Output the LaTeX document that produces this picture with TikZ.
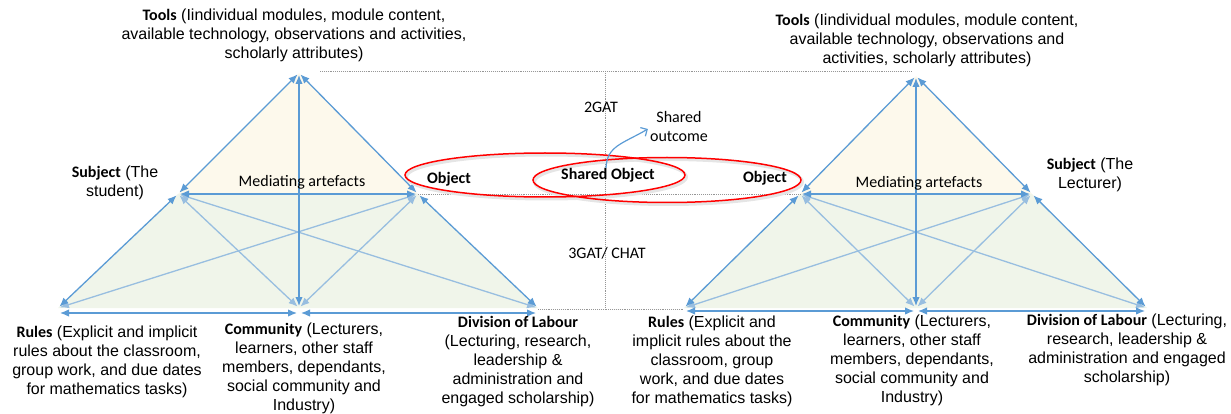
\documentclass[tikz,border=0pt]{standalone}
\usepackage{fontspec}
\setmainfont{Liberation Sans}
\newfontfamily\calib{Carlito}
\usetikzlibrary{arrows.meta}
\definecolor{arrowblue}{RGB}{91,155,213}
\definecolor{paleblue}{RGB}{152,190,224}
\definecolor{toolfill}{RGB}{253,249,236}
\definecolor{basefill}{RGB}{240,245,234}
\definecolor{guidegrey}{RGB}{150,150,150}
\newcommand{\hd}[1]{{\calib\bfseries #1}}

\begin{document}
\begin{tikzpicture}[x=1pt,y=-1pt,
	lbl/.style={align=center,font=\fontsize{16}{19}\selectfont,inner sep=0pt},
	clbl/.style={font=\calib\fontsize{16}{19}\selectfont,inner sep=0pt},
	link/.style={arrowblue,line width=1.3pt,{Latex[length=9pt,width=7.5pt]}-{Latex[length=9pt,width=7.5pt]},shorten <=2pt,shorten >=2pt},
	cross/.style={link,paleblue},
	guide/.style={guidegrey,densely dotted,line width=0.9pt},
	obj/.style={red,line width=1.5pt},
	objshade/.style={black!10,line width=3pt}]
	\useasboundingbox (0,0) rectangle (1231,414);

	% corners of the two activity systems
	\coordinate (lT) at (299,73);
	\coordinate (lS) at (178,194);
	\coordinate (lO) at (418,194);
	\coordinate (lR) at (58,308);
	\coordinate (lC) at (299,308);
	\coordinate (lD) at (538,308);
	\coordinate (rT) at (916,76);
	\coordinate (rO) at (800,194);
	\coordinate (rS) at (1032,194);
	\coordinate (rR) at (684,308);
	\coordinate (rC) at (916,308);
	\coordinate (rD) at (1147,308);

	% shaded areas
	\fill[toolfill] (lT) -- (lS) -- (lO) -- cycle;
	\fill[basefill] (lS) -- (lO) -- (lD) -- (lR) -- cycle;
	\fill[toolfill] (rT) -- (rO) -- (rS) -- cycle;
	\fill[basefill] (rO) -- (rS) -- (rD) -- (rR) -- cycle;

	% dotted frame between the systems
	\draw[guide] (320,71) -- (912,71);
	\draw[guide] (605,71) -- (605,307);
	\draw[guide] (lO) -- (rO);
	\draw[guide] ([yshift=-1pt]lD) -- ([yshift=-1pt]rR);

	% left system
	\draw[cross] (lS) -- (lC);
	\draw[cross] (lS) -- (lD);
	\draw[cross] (lO) -- (lR);
	\draw[cross] (lO) -- (lC);
	\draw[link] (lT) -- (lS);
	\draw[link] (lT) -- (lO);
	\draw[link] (lT) -- (lC);
	\draw[link] (lS) -- (lO);
	\draw[link] (lS) -- (lR);
	\draw[link] (lO) -- (lD);
	\draw[link] ([yshift=-5pt]lR) -- ([yshift=-5pt]lC);
	\draw[link] ([yshift=-5pt]lC) -- ([yshift=-5pt]lD);

	% right system
	\draw[cross] (rO) -- (rC);
	\draw[cross] (rO) -- (rD);
	\draw[cross] (rS) -- (rR);
	\draw[cross] (rS) -- (rC);
	\draw[link] (rT) -- (rO);
	\draw[link] (rT) -- (rS);
	\draw[link] (rT) -- (rC);
	\draw[link] (rO) -- (rS);
	\draw[link] (rO) -- (rR);
	\draw[link] (rS) -- (rD);
	\draw[link] ([yshift=-3pt]rR) -- ([yshift=-3pt]rC);
	\draw[link] ([yshift=-3pt]rC) -- ([yshift=-3pt]rD);

	% objects, with a faint shadow
	\draw[objshade] (546.5,177) ellipse [x radius=140, y radius=22];
	\draw[objshade] (668.5,182) ellipse [x radius=134, y radius=22.5];
	\draw[obj] (545,175) ellipse [x radius=140, y radius=22];
	\draw[obj] (667,180) ellipse [x radius=134, y radius=22.5];

	% labels, left
	\node[lbl] (lTools) at (294,35) {\hd{Tools} (Iindividual modules, module content,\\available technology, observations and activities,\\scholarly attributes)};
	\node[lbl] (lSubj) at (115,183) {\hd{Subject} (The\\student)};
	\node[lbl] (lRules) at (107,362) {\hd{Rules} (Explicit and implicit\\rules about the classroom,\\group work, and due dates\\for mathematics tasks)};
	\node[lbl] (lComm) at (304,368) {\hd{Community} (Lecturers,\\learners, other staff\\members, dependants,\\social community and\\Industry)};
	\node[lbl] (lDiv) at (518,362) {\hd{Division of Labour}\\(Lecturing, research,\\leadership \&\\administration and\\engaged scholarship)};
	\node[clbl] (lMed) at (302,182) {Mediating artefacts};

	% labels, right
	\node[lbl] (rTools) at (927,40) {\hd{Tools} (Iindividual modules, module content,\\available technology, observations and\\activities, scholarly attributes)};
	\node[lbl] (rSubj) at (1090,175) {\hd{Subject} (The\\Lecturer)};
	\node[lbl] (rRules) at (712,361) {\hd{Rules} (Explicit and\\implicit rules about the\\classroom, group\\work, and due dates\\for mathematics tasks)};
	\node[lbl] (rComm) at (912,360) {\hd{Community} (Lecturers,\\learners, other staff\\members, dependants,\\social community and\\Industry)};
	\node[lbl] (rDiv) at (1127,350) {\hd{Division of Labour} (Lecturing,\\research, leadership \&\\administration and engaged\\scholarship)};
	\node[clbl] (rMed) at (919,183) {Mediating artefacts};

	% middle
	\node[clbl,font=\calib\bfseries\fontsize{16}{19}\selectfont] (lObj) at (449,179) {Object};
	\node[clbl,font=\calib\bfseries\fontsize{16}{19}\selectfont] (shObj) at (608,175) {Shared Object};
	\node[clbl,font=\calib\bfseries\fontsize{16}{19}\selectfont] (rObj) at (765,178) {Object};
	\node[clbl] (gen2) at (601,107) {2GAT};
	\node[clbl] (gen3) at (607,253) {3GAT/ CHAT};
	\node[clbl,align=center] (outc) at (679,127) {Shared\\outcome};
	\draw[arrowblue,line width=1.2pt,-{Straight Barb[length=5pt,width=10pt]}] ([xshift=-2pt]shObj.north) .. controls (607,146) and (622,144) .. ([xshift=-2pt,yshift=-2pt]outc.west);
\end{tikzpicture}
\end{document}
